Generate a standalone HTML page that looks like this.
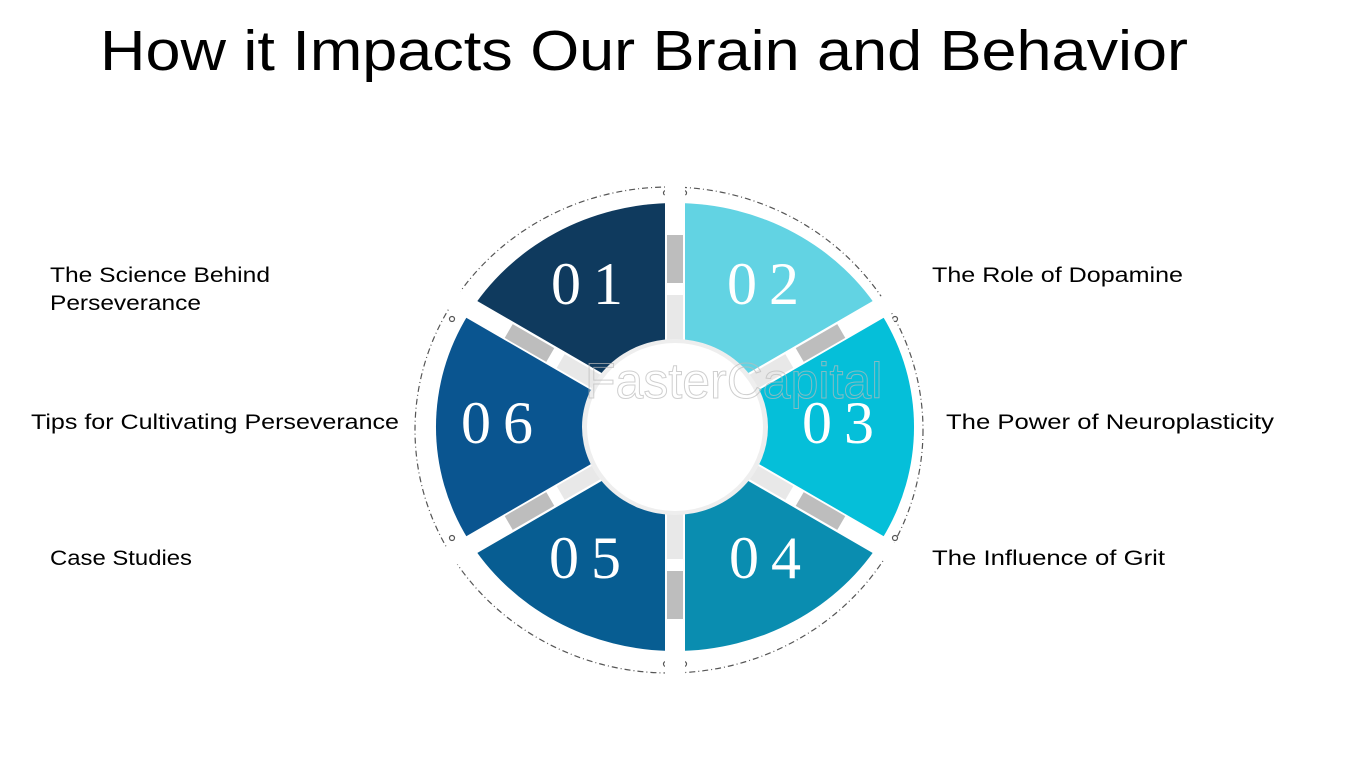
<!DOCTYPE html>
<html><head><meta charset="utf-8"><style>
html,body{margin:0;padding:0;background:#fff;}
svg{display:block;}
</style></head><body>
<svg width="1350" height="759" viewBox="0 0 1350 759" xmlns="http://www.w3.org/2000/svg">
<rect width="1350" height="759" fill="#fff"/>
<text x="100" y="70" font-family="Liberation Sans, sans-serif" font-size="57" fill="#000" textLength="1088" lengthAdjust="spacingAndGlyphs">How it Impacts Our Brain and Behavior</text>

<!-- dashed outer ellipse -->
<ellipse cx="669" cy="430" rx="254" ry="243" fill="none" stroke="#555" stroke-width="1.2" stroke-dasharray="6,3,1,3"/>
<g fill="#fff" stroke="#555" stroke-width="1.2">
<circle cx="666" cy="193" r="2.5"/><circle cx="684" cy="193" r="2.5"/>
<circle cx="666" cy="664" r="2.5"/><circle cx="684" cy="664" r="2.5"/>
<circle cx="462" cy="302" r="2.5"/><circle cx="452" cy="319" r="2.5"/>
<circle cx="885" cy="302" r="2.5"/><circle cx="895" cy="319" r="2.5"/>
<circle cx="452" cy="538" r="2.5"/><circle cx="462" cy="553" r="2.5"/>
<circle cx="895" cy="538" r="2.5"/><circle cx="885" cy="553" r="2.5"/>
</g>
<!-- white cover between segments and dashed ring -->
<ellipse cx="675" cy="427" rx="246" ry="232" fill="#fff"/>

<!-- wedges -->
<g>
<path d="M675,427 L468,315 A239,224 0 0 1 675,203 Z" fill="#0f3a5e"/>
<path d="M675,427 L675,203 A239,224 0 0 1 882,315 Z" fill="#62d3e3"/>
<path d="M675,427 L882,315 A239,224 0 0 1 882,539 Z" fill="#05bfd9"/>
<path d="M675,427 L882,539 A239,224 0 0 1 675,651 Z" fill="#0a8db0"/>
<path d="M675,427 L675,651 A239,224 0 0 1 468,539 Z" fill="#075d92"/>
<path d="M675,427 L468,539 A239,224 0 0 1 468,315 Z" fill="#0a5590"/>
</g>
<!-- stripes -->
<g stroke="#fff" stroke-width="20">
<line x1="675" y1="160" x2="675" y2="700"/>
<line x1="440" y1="291" x2="910" y2="563"/>
<line x1="440" y1="563" x2="910" y2="291"/>
</g>
<!-- gray blocks -->
<g transform="translate(675,427)">
<g id="blk"><rect x="-8" y="-192" width="16" height="48" fill="#bdbdbd"/><rect x="-8" y="-132" width="16" height="48" fill="#e8e8e8"/></g>
<use href="#blk" transform="rotate(60)"/>
<use href="#blk" transform="rotate(120)"/>
<use href="#blk" transform="rotate(180)"/>
<use href="#blk" transform="rotate(240)"/>
<use href="#blk" transform="rotate(300)"/>
</g>
<!-- inner circle -->
<ellipse cx="675" cy="427" rx="93" ry="88" fill="#eeeeee"/>
<ellipse cx="675" cy="427" rx="88" ry="84" fill="#fff"/>
<!-- watermark -->
<text x="585" y="398" font-family="Liberation Sans, sans-serif" font-size="50" fill="none" stroke="#bbb" stroke-width="1" opacity="0.7">FasterCapital</text>

<!-- numbers -->
<g font-family="Liberation Serif, serif" font-size="60" fill="#fff" letter-spacing="12">
<text x="551" y="304">01</text>
<text x="727" y="304">02</text>
<text x="802" y="443">03</text>
<text x="461" y="443">06</text>
<text x="549" y="578">05</text>
<text x="729" y="578">04</text>
</g>

<!-- labels -->
<g font-family="Liberation Sans, sans-serif" font-size="21" fill="#000">
<text x="50" y="282" textLength="220" lengthAdjust="spacingAndGlyphs">The Science Behind</text>
<text x="50" y="310" textLength="151" lengthAdjust="spacingAndGlyphs">Perseverance</text>
<text x="31" y="429" textLength="368" lengthAdjust="spacingAndGlyphs">Tips for Cultivating Perseverance</text>
<text x="50" y="565" textLength="142" lengthAdjust="spacingAndGlyphs">Case Studies</text>
<text x="932" y="282" textLength="251" lengthAdjust="spacingAndGlyphs">The Role of Dopamine</text>
<text x="946" y="429" textLength="328" lengthAdjust="spacingAndGlyphs">The Power of Neuroplasticity</text>
<text x="932" y="565" textLength="233" lengthAdjust="spacingAndGlyphs">The Influence of Grit</text>
</g>
</svg>
</body></html>
